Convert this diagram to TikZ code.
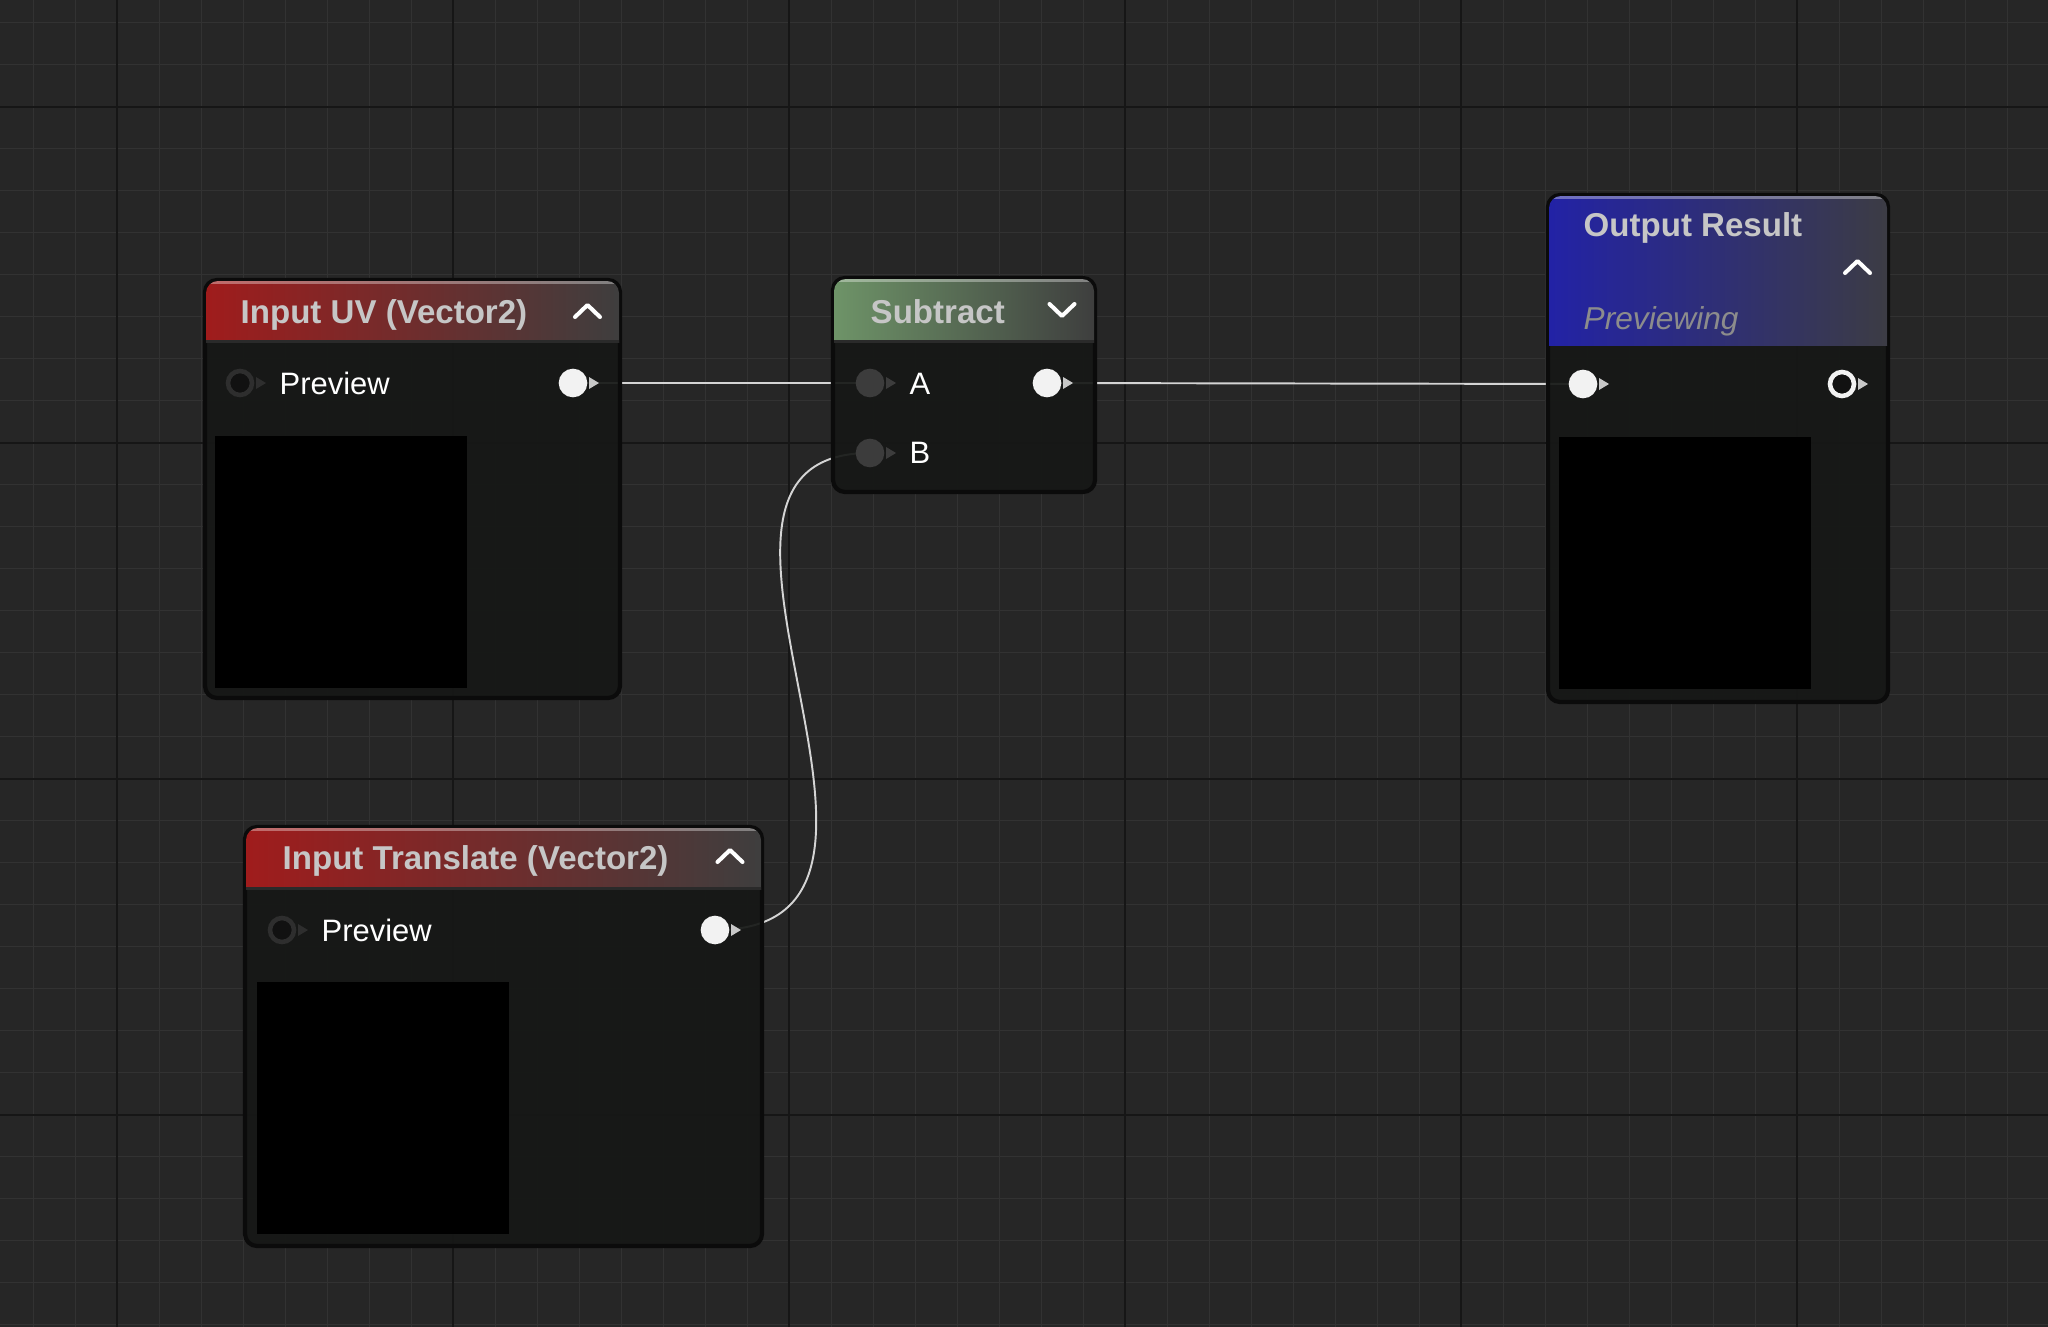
\documentclass[tikz,border=0pt]{standalone}
\usepackage{fontspec}
\setmainfont{Liberation Sans}
\definecolor{canvas}{HTML}{262626}
\definecolor{gridmin}{HTML}{323232}
\definecolor{gridmaj}{HTML}{161616}
\definecolor{bodyfill}{HTML}{161816}
\definecolor{rim}{HTML}{0B0B0B}
\definecolor{titlegray}{HTML}{C6C6C6}
\definecolor{statetext}{HTML}{8C8C8C}
\definecolor{wirecol}{HTML}{D4D4D4}
\definecolor{portwhite}{HTML}{F2F2F2}
\definecolor{porttip}{HTML}{C8C8C8}
\definecolor{portdark}{HTML}{111111}
\definecolor{portrim}{HTML}{2E2E2E}
\definecolor{portgrey}{HTML}{3C3C3C}
\definecolor{hdrgray}{HTML}{3E3E3E}
\definecolor{sepcol}{HTML}{2A2A2A}
\definecolor{redhi}{HTML}{A01C1C}
\definecolor{redlo}{HTML}{5E1010}
\definecolor{greenhi}{HTML}{6E9468}
\definecolor{greenlo}{HTML}{4C6A46}
\definecolor{bluehi}{HTML}{2222A6}
\definecolor{bluelo}{HTML}{0B0B4A}
\definecolor{bluegray}{HTML}{3C3C44}
\tikzset{
  minorline/.style={gridmin, line width=0.3pt},
  majorline/.style={gridmaj, line width=0.6pt},
  body/.style={fill=bodyfill, fill opacity=0.93, draw=rim, line width=1.2pt},
  hdrred/.style={left color=redhi, middle color=redlo, right color=hdrgray},
  hdrgreen/.style={left color=greenhi, middle color=greenlo, right color=hdrgray},
  hdrblue/.style={left color=bluehi, middle color=bluelo, right color=bluegray},
  title/.style={anchor=base west, inner sep=0pt, text=titlegray,
    font=\fontsize{9.4}{11}\selectfont\bfseries},
  pintext/.style={anchor=base west, inner sep=0pt, text=white,
    font=\fontsize{8.8}{10}\selectfont},
  chev/.style={white, line width=1.15pt, line cap=round, line join=round},
  wire/.style={wirecol, line width=0.55pt},
  preview/.style={fill=black},
  pics/port/.style n args={3}{code={
    \fill[#3] (16,-6) -- (26,0) -- (16,6) -- cycle;
    \filldraw[fill=#1, draw=#2, line width=1.3pt] (0,0) circle (0.12cm);
  }}
}
\begin{document}
\begin{tikzpicture}[x=0.01cm, y=-0.01cm]
  \useasboundingbox (0,0) rectangle (2048,1327);
  \fill[canvas] (0,0) rectangle (2048,1327);
  % grid
  \foreach \k in {0,...,48}
    \draw[minorline] ({33.3+42*\k},0) -- ({33.3+42*\k},1327);
  \foreach \k in {0,...,31}
    \draw[minorline] (0,{22.3+42*\k}) -- (2048,{22.3+42*\k});
  \foreach \k in {0,...,5}
    \draw[majorline] ({117.3+336*\k},0) -- ({117.3+336*\k},1327);
  \foreach \k in {0,...,3}
    \draw[majorline] (0,{106.7+336*\k}) -- (2048,{106.7+336*\k});

  % ports
  \coordinate (uvIn) at (240,383);
  \coordinate (uvOut) at (573,383);
  \coordinate (subA) at (870,383);
  \coordinate (subB) at (870,453);
  \coordinate (subOut) at (1047,383);
  \coordinate (resIn) at (1583,384);
  \coordinate (resOut) at (1842,384);
  \coordinate (trIn) at (282,930);
  \coordinate (trOut) at (715,930);

  % wires
  \draw[wire] (uvOut) -- (subA);
  \draw[wire] (subOut) -- (resIn);
  \draw[wire] (trOut) .. controls +(255,0) and +(-237,0) .. (subB);

  % Input UV
  \draw[body, rounded corners=0.12cm] (205,280) rectangle (620,698);
  \begin{scope}
    \clip[rounded corners=0.12cm] (206,281) rectangle (619,697);
    \fill[hdrred] (205,280) rectangle (620,342);
    \fill[white, opacity=0.35] (205,281) rectangle (620,284);
    \fill[sepcol] (205,340) rectangle (620,343);
  \end{scope}
  \fill[preview] (215,436) rectangle (467,688);
  \node[title] (uvTitle) at (240,323) {Input UV (Vector2)};
  \draw[chev] (575,317) -- (587.5,305) -- (600,317);
  \node[pintext] (uvPreview) at (279,394) {Preview};
  \pic at (uvIn) {port={portdark}{portrim}{portrim}};
  \pic at (uvOut) {port={portwhite}{portwhite}{porttip}};

  % Subtract
  \draw[body, rounded corners=0.12cm] (833,278) rectangle (1095,492);
  \begin{scope}
    \clip[rounded corners=0.12cm] (834,279) rectangle (1094,491);
    \fill[hdrgreen] (833,278) rectangle (1095,342);
    \fill[white, opacity=0.35] (833,279) rectangle (1095,282);
    \fill[sepcol] (833,340) rectangle (1095,343);
  \end{scope}
  \node[title] (subTitle) at (870,323) {Subtract};
  \draw[chev] (1049.5,304) -- (1062,316) -- (1074.5,304);
  \node[pintext] (subAText) at (909,394) {A};
  \node[pintext] (subBText) at (909,463) {B};
  \pic at (subA) {port={portgrey}{portgrey}{portgrey}};
  \pic at (subB) {port={portgrey}{portgrey}{portgrey}};
  \pic at (subOut) {port={portwhite}{portwhite}{porttip}};

  % Output Result
  \draw[body, rounded corners=0.12cm] (1548,195) rectangle (1888,702);
  \begin{scope}
    \clip[rounded corners=0.12cm] (1549,196) rectangle (1887,701);
    \fill[hdrblue] (1548,195) rectangle (1888,345);
    \fill[white, opacity=0.35] (1548,196) rectangle (1888,199);
  \end{scope}
  \fill[preview] (1559,437) rectangle (1811,689);
  \node[title] (resTitle) at (1583,236) {Output Result};
  \draw[chev] (1845,273) -- (1857.5,261) -- (1870,273);
  \node[pintext, text=statetext, font=\fontsize{9}{10}\selectfont\itshape]
    (resState) at (1583,329) {Previewing};
  \pic at (resIn) {port={portwhite}{portwhite}{porttip}};
  \pic at (resOut) {port={portdark}{portwhite}{porttip}};

  % Input Translate
  \draw[body, rounded corners=0.12cm] (245,827) rectangle (762,1246);
  \begin{scope}
    \clip[rounded corners=0.12cm] (246,828) rectangle (761,1245);
    \fill[hdrred] (245,827) rectangle (762,889);
    \fill[white, opacity=0.35] (245,828) rectangle (762,831);
    \fill[sepcol] (245,887) rectangle (762,890);
  \end{scope}
  \fill[preview] (257,982) rectangle (509,1234);
  \node[title] (trTitle) at (282,869) {Input Translate (Vector2)};
  \draw[chev] (717.5,862) -- (730,850) -- (742.5,862);
  \node[pintext] (trPreview) at (321,941) {Preview};
  \pic at (trIn) {port={portdark}{portrim}{portrim}};
  \pic at (trOut) {port={portwhite}{portwhite}{porttip}};
\end{tikzpicture}
\end{document}
